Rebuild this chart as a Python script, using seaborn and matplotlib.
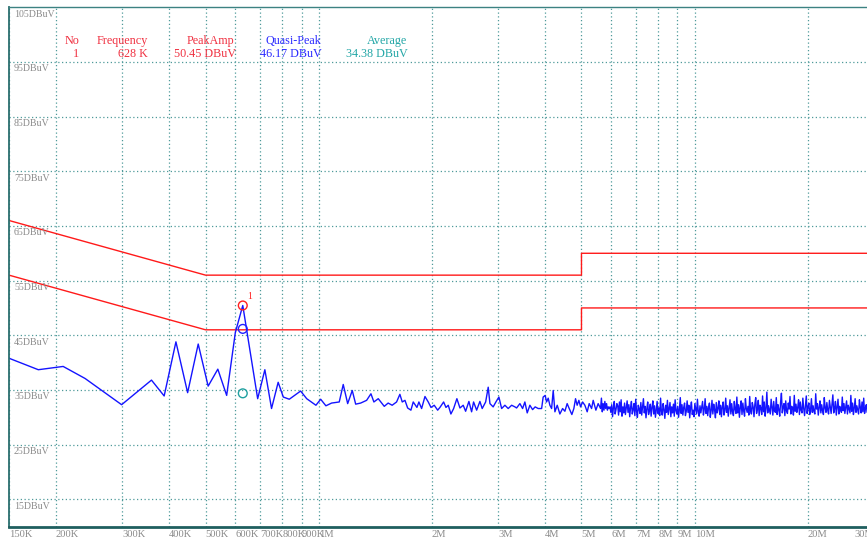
import numpy as np
import pandas as pd
import matplotlib
matplotlib.use("Agg")
import matplotlib.pyplot as plt
import matplotlib.transforms as mtransforms
import seaborn as sns

sns.set_theme(style="white")
plt.rcParams['font.family'] = ['Liberation Serif', 'DejaVu Serif']

# ---------------- data (frequencies in kHz, levels in dBuV) ----------------
scan_khz = [150, 179.5, 209, 239, 299, 359, 388, 417, 448, 478, 508, 539, 569, 600, 628,
            688, 719, 749, 780, 805, 835, 895, 929, 983, 1012, 1045, 1082, 1134, 1162,
            1194, 1228, 1254, 1293, 1341, 1377, 1402, 1440, 1494, 1530, 1568, 1611, 1644,
            1668, 1696, 1724, 1759, 1784, 1825, 1847, 1878, 1917, 1956, 1989, 2029, 2072,
            2101, 2149, 2180, 2211, 2247, 2285, 2331, 2375, 2423, 2459, 2509, 2551, 2582,
            2631, 2684, 2722, 2780, 2824, 2854, 2911, 2960, 3015, 3066, 3128, 3192, 3260,
            3326, 3360, 3429, 3486, 3535, 3586, 3645, 3706, 3765, 3836, 3917, 3954, 4003,
            4038, 4078, 4120, 4164, 4205, 4249, 4310, 4380, 4454, 4517, 4580, 4638, 4714,
            4772, 4821, 4869, 4921, 4972, 5034, 5105, 5178, 5242, 5319, 5372, 5461, 5538]
scan_dbuv = [40.8, 38.7, 39.3, 37.1, 32.3, 36.8, 33.9, 43.8, 34.5, 43.4, 35.7, 38.8, 34.0, 45.5, 50.45,
             33.4, 38.7, 31.6, 36.4, 33.7, 33.3, 34.8, 33.4, 32.2, 33.3, 32.1, 32.6, 32.8, 36.0,
             32.5, 34.9, 32.4, 32.6, 33.1, 34.3, 32.8, 33.4, 32.0, 32.6, 32.2, 32.8, 34.2,
             32.8, 33.1, 31.7, 31.3, 32.8, 31.8, 32.8, 31.6, 33.8, 32.8, 31.8, 32.2, 31.3,
             31.8, 32.8, 31.8, 32.2, 30.6, 31.6, 33.4, 31.7, 32.2, 31.1, 32.9, 31.0, 32.8,
             31.3, 32.9, 31.6, 32.8, 35.5, 32.5, 31.9, 32.8, 33.7, 31.6, 32.2, 31.6, 32.2,
             31.9, 31.7, 32.5, 31.6, 32.8, 30.8, 32.2, 31.4, 31.9, 31.6, 31.6, 33.7, 34.0,
             32.8, 33.5, 32.2, 31.6, 34.9, 31.0, 32.2, 30.6, 31.6, 31.1, 32.5, 31.6, 30.5,
             31.6, 33.4, 32.2, 33.1, 31.9, 32.8, 32.2, 31.0, 32.5, 31.6, 33.1, 31.3, 32.5]

# dense part of the sweep (5.62 MHz .. 30 MHz)
dense_start_khz, dense_stop_khz = 5620, 30000
dense_dbuv = [
    31.6, 33.5, 31.0, 32.5, 31.3, 32.9, 31.6, 32.5, 31.3, 31.9, 31.6, 31.9, 30.9, 32.3, 30.1, 31.8, 32.9, 30.6, 31.4, 32.5,
    32.1, 30.4, 32.8, 31.0, 33.2, 30.2, 31.9, 30.8, 32.6, 30.5, 31.7, 33.0, 30.9, 32.3, 30.1, 31.8, 32.9, 30.6, 31.4, 32.5,
    30.3, 33.3, 31.1, 30.0, 32.2, 31.5, 30.7, 32.7, 30.4, 31.9, 33.4, 30.8, 32.0, 29.9, 31.6, 32.8, 30.5, 31.2, 32.4, 30.2,
    31.8, 33.0, 30.6, 32.1, 30.0, 31.3, 32.9, 30.7, 31.7, 30.3, 33.5, 31.0, 30.4, 32.5, 31.4, 29.8, 32.2, 30.9, 33.1, 30.5,
    31.6, 32.7, 30.1, 31.9, 30.8, 32.4, 30.2, 33.2, 31.2, 30.6, 32.0, 30.0, 31.5, 33.6, 30.7, 32.3, 30.4, 31.8, 32.6, 30.3,
    31.1, 33.0, 30.9, 32.2, 29.9, 31.7, 32.8, 30.5, 31.3, 30.1, 32.5, 31.6, 30.6, 33.3, 31.0, 30.2, 32.1, 30.8, 31.9, 32.9,
    30.4, 31.5, 33.4, 30.7, 32.0, 30.3, 31.8, 32.6, 30.0, 31.2, 33.1, 30.6, 32.4, 31.4, 29.9, 32.7, 30.8, 31.6, 33.0, 30.5,
    32.2, 30.1, 31.9, 32.8, 30.4, 31.3, 33.5, 30.9, 32.1, 30.2, 31.7, 33.2, 30.6, 32.5, 31.0, 30.3, 32.9, 31.5, 30.7, 33.7,
    30.8, 32.3, 30.0, 31.8, 33.0, 30.5, 32.6, 31.1, 30.2, 33.4, 31.6, 30.9, 32.0, 30.4, 33.8, 31.2, 30.6, 32.7, 31.9, 30.1,
    32.4, 33.6, 30.7, 31.5, 33.1, 30.3, 32.2, 31.7, 30.5, 33.9, 31.0, 32.8, 30.2, 31.6, 34.6, 30.8, 32.1, 31.3, 30.6, 33.3,
    31.8, 30.4, 32.9, 31.1, 30.9, 33.6, 30.5, 32.3, 31.4, 30.2, 32.7, 34.4, 30.8, 31.9, 32.5, 30.3, 33.0, 31.2, 30.7, 32.6,
    31.5, 33.8, 30.6, 32.0, 31.7, 30.4, 34.0, 31.1, 32.4, 30.9, 31.8, 33.2, 30.5, 32.8, 31.3, 30.8, 33.5, 31.6, 30.3, 32.2,
    33.9, 30.7, 31.9, 32.6, 30.5, 31.4, 33.4, 30.9, 32.1, 31.0, 30.6, 34.3, 31.5, 32.5, 30.4, 31.8, 33.0, 30.8, 32.3, 31.2,
    30.5, 33.6, 31.7, 30.9, 32.7, 31.3, 30.6, 33.1, 31.9, 30.7, 32.4, 34.1, 30.8, 31.6, 32.9, 30.4, 31.8, 33.3, 30.6, 32.0,
    31.4, 30.9, 33.7, 31.2, 32.5, 30.7, 31.9, 33.0, 30.6, 32.2, 31.5, 30.8, 34.0, 31.1, 32.6, 30.5, 31.7, 33.4, 30.9, 32.1,
    31.3, 30.6, 33.2, 31.8, 30.8, 32.8, 31.0, 33.5, 30.7, 31.6, 32.3, 30.9, 33.1, 31.4, 30.5, 32.7, 31.9, 30.8, 33.6, 31.5,
]

qp_limit_khz = [150, 500, 5000, 5000, 30000]
qp_limit_dbuv = [66, 56, 56, 60, 60]
av_limit_dbuv = [56, 46, 46, 50, 50]

marker_khz = 628
marker_peak = 50.45
marker_qp = 46.17
marker_av = 34.38

ytick_values = [105, 95, 85, 75, 65, 55, 45, 35, 25, 15]
xtick_khz = [150, 200, 300, 400, 500, 600, 700, 800, 900, 1000, 2000, 3000, 4000, 5000,
             6000, 7000, 8000, 9000, 10000, 20000, 30000]
xtick_labels = ['150K', '200K', '300K', '400K', '500K', '600K', '700K', '800K', '900K', '1M',
                '2M', '3M', '4M', '5M', '6M', '7M', '8M', '9M', '10M', '20M', '30M']

# ---------------- build frames ----------------
dense_khz = np.geomspace(dense_start_khz, dense_stop_khz, len(dense_dbuv))
trace = pd.DataFrame({'f': np.concatenate([scan_khz, dense_khz]),
                      'v': np.concatenate([scan_dbuv, dense_dbuv])})
limits = pd.DataFrame({'f': qp_limit_khz * 2,
                       'v': qp_limit_dbuv + av_limit_dbuv,
                       'lim': ['QP'] * 5 + ['AV'] * 5})

# ---------------- figure ----------------
W, H = 867, 540
fig = plt.figure(figsize=(W / 100, H / 100), dpi=100)
fig.patch.set_facecolor('white')
ax_left, ax_right, ax_top, ax_bottom = 9, 874, 7.3, 526.6
ax = fig.add_axes([ax_left / W, (H - ax_bottom) / H,
                   (ax_right - ax_left) / W, (ax_bottom - ax_top) / H])
ax.set_facecolor('white')

ax.set_xscale('log')
ax.set_xlim(150, 30000)
ax.set_ylim(10, 105)

grid_color = '#4f9a9a'
ax.set_yticks([v for v in ytick_values if v < 105])
ax.set_yticklabels([])
ax.set_xticks(xtick_khz)
ax.set_xticklabels(xtick_labels)
ax.minorticks_off()
ax.grid(True, which='major', color=grid_color, linestyle=(0, (1, 2)), linewidth=0.9)
ax.tick_params(axis='both', length=0)
ax.tick_params(axis='x', labelsize=7.6, labelcolor='#8a8a8a', pad=2.5)
labels = ax.get_xticklabels()
for lbl in labels:
    lbl.set_ha('left')
labels[-1].set_ha('right')

# limit lines
sns.lineplot(data=limits, x='f', y='v', units='lim', estimator=None, sort=False,
             color='#ff1a1a', linewidth=1.0, ax=ax, legend=False)
# measured trace
sns.lineplot(data=trace, x='f', y='v', estimator=None, sort=False,
             color='#1414ff', linewidth=1.0, ax=ax, legend=False)

# markers
sns.scatterplot(x=[marker_khz], y=[marker_peak], s=40, facecolors='none',
                edgecolor='#ff2020', linewidth=1.0, ax=ax, zorder=5)
sns.scatterplot(x=[marker_khz], y=[marker_qp], s=40, facecolors='none',
                edgecolor='#2020ff', linewidth=1.0, ax=ax, zorder=5)
sns.scatterplot(x=[marker_khz], y=[marker_av], s=40, facecolors='none',
                edgecolor='#1fa0a0', linewidth=1.0, ax=ax, zorder=5)
ax.annotate('1', (marker_khz, marker_peak), xytext=(3, 3), textcoords='offset points',
            color='#ff2020', fontsize=7, ha='left', va='bottom')

ax.set_xlabel('')
ax.set_ylabel('')

# y level labels inside the plot
trans = mtransforms.blended_transform_factory(ax.transAxes, ax.transData)
trans = mtransforms.offset_copy(trans, fig=fig, x=0, y=-1.8, units='points')
for v in ytick_values:
    ax.text(0.0058, v, f'{v}DBuV', transform=trans, ha='left', va='top',
            fontsize=7.1, color='#8a8a8a')

# spines
ax.spines['right'].set_visible(False)
ax.spines['left'].set_color('#2a6e6e')
ax.spines['left'].set_linewidth(1.3)
ax.spines['bottom'].set_color('#1f5f5f')
ax.spines['bottom'].set_linewidth(2.0)
ax.spines['top'].set_color('#3c8282')
ax.spines['top'].set_linewidth(1.0)

# header table
red, blue, teal = '#f03040', '#2a2aff', '#22a6a6'
def ftext(x, y, s, color, ha):
    fig.text(x / W, 1 - y / H, s, color=color, ha=ha, va='baseline', fontsize=8.7)

ftext(65, 43.7, 'No', red, 'left')
ftext(75.5, 56.7, '1', red, 'center')
ftext(148, 43.7, 'Frequency', red, 'right')
ftext(148, 56.7, '628 K', red, 'right')
ftext(234.5, 43.7, 'PeakAmp', red, 'right')
ftext(236, 56.7, '50.45 DBuV', red, 'right')
ftext(321, 43.7, 'Quasi-Peak', blue, 'right')
ftext(322, 56.7, '46.17 DBuV', blue, 'right')
ftext(407, 43.7, 'Average', teal, 'right')
ftext(408, 56.7, '34.38 DBuV', teal, 'right')

fig.savefig('out.png', dpi=100)
